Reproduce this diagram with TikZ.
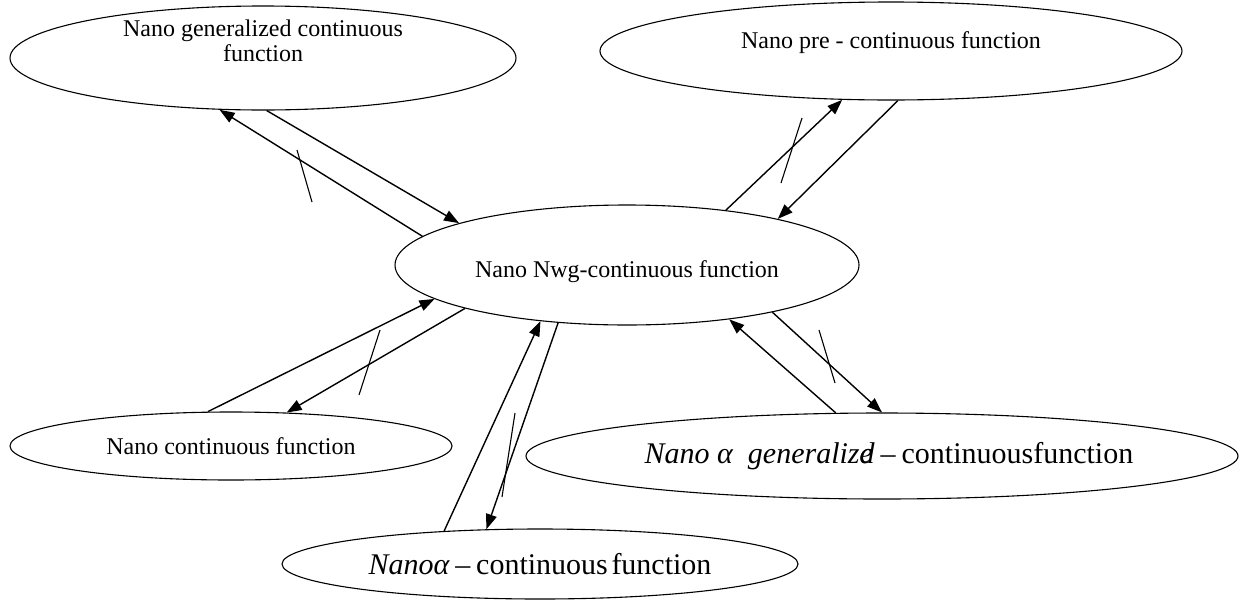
\documentclass[tikz,border=0pt]{standalone}
\usepackage{fontspec}
\setmainfont{Liberation Serif}
\usetikzlibrary{arrows.meta,shapes.geometric}
\begin{document}
\begin{tikzpicture}[x=1pt,y=-1pt,
  oval/.style={draw,ellipse,line width=1.1pt,inner sep=0pt,font=\fontsize{24}{25}\selectfont},
  txt/.style={inner sep=0pt,font=\fontsize{24}{25}\selectfont,align=center},
  bigtext/.style={font=\fontsize{30}{31}\selectfont},
  conn/.style={line width=1.4pt,-{Triangle[length=15pt,width=11pt]}},
  slash/.style={line width=1.1pt}]
\useasboundingbox (0,0) rectangle (1250,600);
\node[oval,minimum width=506pt,minimum height=104pt,
  label={[txt,yshift=17pt]center:Nano generalized continuous\\function}] (E1) at (263,58) {};
\node[oval,minimum width=582pt,minimum height=98pt,
  label={[txt,yshift=8pt]center:Nano pre - continuous function}] (E2) at (891,51) {};
\node[oval,minimum width=464pt,minimum height=120pt,
  label={[txt,yshift=-7pt]center:Nano Nwg-continuous function}] (E3) at (627,265) {};
\node[oval,minimum width=442pt,minimum height=68pt] (E4) at (231,446) {Nano continuous function};
\node[oval,minimum width=712pt,minimum height=86pt,
  label={[txt,bigtext,xshift=7pt]center:{\itshape Nano\ α\enspace generaliz\rlap{e}d}\hspace{0.2em}–\hspace{0.2em}continuousfunction}] (E5) at (882,456) {};
\node[oval,bigtext,minimum width=516pt,minimum height=70pt] (E6) at (540,564) {{\itshape Nanoα}\hspace{0.2em}–\hspace{0.2em}continuous\hspace{0.12em}function};
\draw[conn] (E3.172.5) -- (E1.-130.3);
\draw[conn] (E1.-86) -- (E3.166.5);
\draw[conn] (E3.29.4) -- (E2.-135);
\draw[conn] (E2.-82.9) -- (E3.17.8);
\draw[conn] (E4.124.1) -- (E3.-170);
\draw[conn] (E3.-165.7) -- (E4.31.4);
\draw[conn] (E6.161.6) -- (E3.-147);
\draw[conn] (E3.-140.2) -- (E6.147.7);
\draw[conn] (E3.-18) -- (E5.90);
\draw[conn] (E5.137.5) -- (E3.-28.2);
\draw[slash] (297,150) -- (312,202);
\draw[slash] (802,118) -- (781,183);
\draw[slash] (380,330) -- (359,395);
\draw[slash] (515,413) -- (502,497);
\draw[slash] (819,330) -- (835,383);
\end{tikzpicture}
\end{document}
